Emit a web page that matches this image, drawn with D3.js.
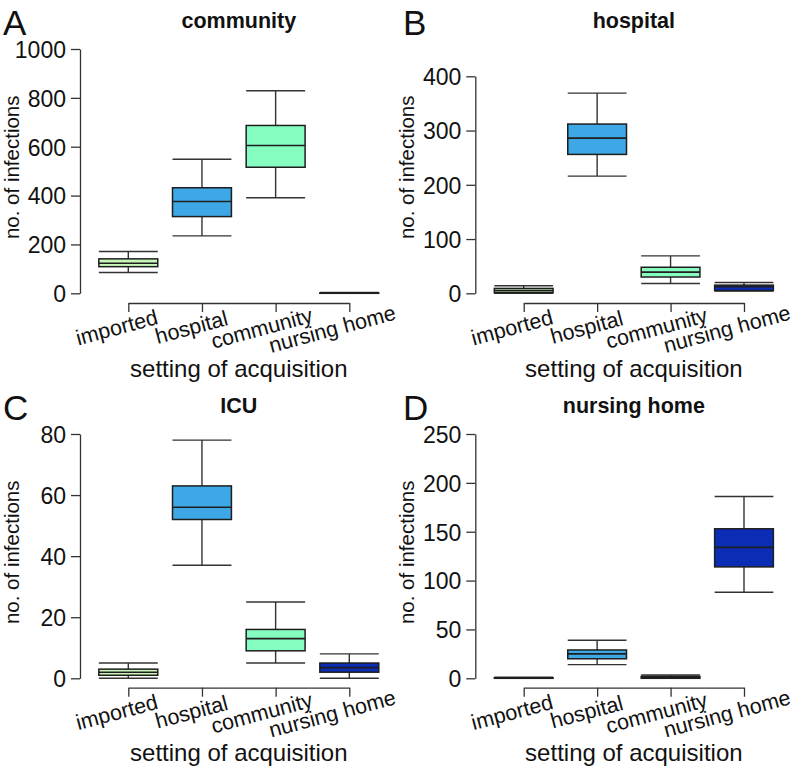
<!DOCTYPE html>
<html>
<head>
<meta charset="utf-8">
<script src="https://cdn.jsdelivr.net/npm/d3@7"></script>
<style>
  html, body { margin: 0; padding: 0; background: #fff; }
  svg { display: block; font-family: "Liberation Sans", Arial, Helvetica, sans-serif; }
</style>
</head>
<body>
<svg id="chart" width="793" height="770"></svg>
<script>
// ---------- data ----------
const categories = ["imported", "hospital", "community", "nursing home"];
const categoryColors = ["#c8f6b6", "#3ea8e6", "#86fdc0", "#0b2cb5"];
const panelTitles = ["community", "hospital", "ICU", "nursing home"];
const panelLetters = ["A", "B", "C", "D"];

// box stats per category: [lower whisker, Q1, median, Q3, upper whisker]
const communityBoxes = [[85, 109, 123, 141, 171], [235, 314, 376, 432, 549], [391, 516, 605, 687, 829], [0, 0, 0, 1, 3]];
const hospitalBoxes  = [[0, 1, 5, 9, 14], [216, 256, 286, 312, 369], [18, 30, 39, 48, 69], [4, 5, 12, 15, 20]];
const icuBoxes       = [[0, 1, 2, 3, 5], [37, 52, 56, 63, 78], [5, 9, 13, 16, 25], [0, 2, 3.5, 5, 8]];
const nursingBoxes   = [[0, 0, 0, 0.5, 1], [14, 20, 25, 29, 39], [0, 0, 1, 2, 3.4], [88, 114, 134, 153, 186]];

const ticksA = [0, 200, 400, 600, 800, 1000];
const ticksB = [0, 100, 200, 300, 400];
const ticksC = [0, 20, 40, 60, 80];
const ticksD = [0, 50, 100, 150, 200, 250];

const xTitle = "setting of acquisition";
const yTitle = "no. of infections";

// ---------- layout ----------
const panels = [
  { boxes: communityBoxes, ticks: ticksA, ox: 0,   axisX: 80,    y0: 293.3, yTop: 49,   xAxisY: 303,   x0: 128.3, x1: 349.3, top: 0 },
  { boxes: hospitalBoxes,  ticks: ticksB, ox: 400, axisX: 475.3, y0: 293.3, yTop: 76.3, xAxisY: 303,   x0: 523.7, x1: 744,   top: 0 },
  { boxes: icuBoxes,       ticks: ticksC, ox: 0,   axisX: 80,    y0: 678.3, yTop: 434,  xAxisY: 687.7, x0: 128.3, x1: 349.3, top: 385 },
  { boxes: nursingBoxes,   ticks: ticksD, ox: 400, axisX: 475.3, y0: 678.3, yTop: 434,  xAxisY: 687.7, x0: 523.7, x1: 744,   top: 385 }
];

const svg = d3.select("#chart");
const axisColor = "#333";
const boxStroke = "#1e1e1e";

panels.forEach((p, i) => {
  const g = svg.append("g");
  const ticks = p.ticks;
  const y = d3.scaleLinear().domain([0, ticks[ticks.length - 1]]).range([p.y0, p.yTop]);
  const x = d3.scalePoint().domain(categories).range([p.x0, p.x1]);
  const bw = x.step() * 0.8;

  // y axis
  const ya = g.append("g").attr("transform", `translate(${p.axisX},0)`)
    .call(d3.axisLeft(y).tickValues(ticks).tickSize(9).tickSizeOuter(0).tickPadding(5).tickFormat(d3.format("d")));
  ya.select(".domain").attr("stroke", axisColor).attr("stroke-width", 1.3);
  ya.selectAll(".tick line").attr("stroke", axisColor).attr("stroke-width", 1.3);
  ya.selectAll(".tick text").attr("fill", "#111").style("font-size", "23px")
    .style("font-family", "'Liberation Sans', Arial, sans-serif").attr("dy", "0.36em");

  // x axis
  const xa = g.append("g").attr("transform", `translate(0,${p.xAxisY})`)
    .call(d3.axisBottom(x).tickSize(9).tickSizeOuter(0).tickFormat(""));
  xa.select(".domain").attr("stroke", axisColor).attr("stroke-width", 1.3);
  xa.selectAll(".tick line").attr("stroke", axisColor).attr("stroke-width", 1.3);

  // rotated category labels
  categories.forEach(c => {
    const t = g.append("text")
      .attr("transform", `translate(${x(c)},${p.xAxisY + 29}) rotate(-15)`)
      .style("font-size", "21.5px").attr("fill", "#111")
      .text(c);
    const len = t.node().getComputedTextLength();
    t.attr("x", -0.62 * len);
  });

  // boxes
  const bg = g.append("g");
  p.boxes.forEach((b, k) => {
    const cx = x(categories[k]);
    const [lo, q1, med, q3, hi] = b;
    const wg = bg.append("g").attr("stroke", axisColor).attr("stroke-width", 1.4).attr("fill", "none");
    wg.append("line").attr("x1", cx).attr("x2", cx).attr("y1", y(hi)).attr("y2", y(q3));
    wg.append("line").attr("x1", cx).attr("x2", cx).attr("y1", y(q1)).attr("y2", y(lo));
    wg.append("line").attr("x1", cx - bw / 2).attr("x2", cx + bw / 2).attr("y1", y(hi)).attr("y2", y(hi));
    wg.append("line").attr("x1", cx - bw / 2).attr("x2", cx + bw / 2).attr("y1", y(lo)).attr("y2", y(lo));
    bg.append("rect")
      .attr("x", cx - bw / 2).attr("width", bw)
      .attr("y", y(q3)).attr("height", Math.max(0, y(q1) - y(q3)))
      .attr("fill", categoryColors[k]).attr("stroke", boxStroke).attr("stroke-width", 1.5);
    bg.append("line").attr("x1", cx - bw / 2).attr("x2", cx + bw / 2)
      .attr("y1", y(med)).attr("y2", y(med)).attr("stroke", boxStroke).attr("stroke-width", 1.6);
  });

  // titles
  const cxPlot = (p.x0 + p.x1) / 2;
  g.append("text").attr("x", cxPlot).attr("y", p.top + 28).attr("text-anchor", "middle")
    .style("font-size", "21.5px").style("font-weight", "bold").attr("fill", "#111").text(panelTitles[i]);
  g.append("text").attr("x", p.ox + 3).attr("y", p.top + 35)
    .style("font-size", "35px").attr("fill", "#111").text(panelLetters[i]);
  g.append("text").attr("x", cxPlot).attr("y", p.xAxisY + 73.5).attr("text-anchor", "middle")
    .style("font-size", "24px").attr("fill", "#111").text(xTitle);
  g.append("text")
    .attr("transform", `translate(${p.axisX - 61},${p.y0 - 126}) rotate(-90)`)
    .attr("text-anchor", "middle")
    .style("font-size", "20.5px").attr("fill", "#111").text(yTitle);
});
</script>
</body>
</html>
